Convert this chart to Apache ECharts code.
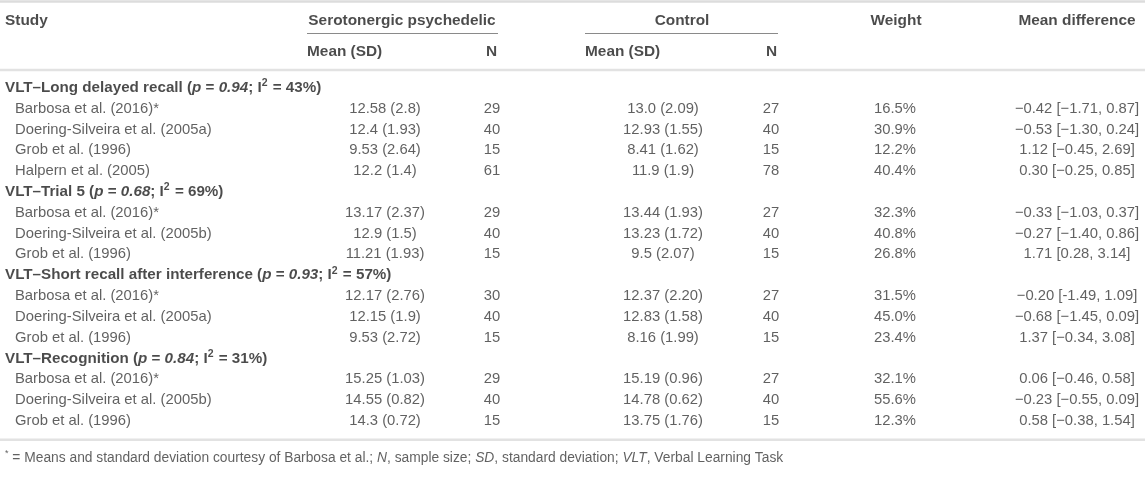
<!DOCTYPE html>
<html>
<head>
<meta charset="utf-8">
<script src="https://cdn.jsdelivr.net/npm/echarts@6/dist/echarts.min.js"></script>
<style>
html,body{margin:0;padding:0;background:#fff;}
#chart{width:1145px;height:477px;}
</style>
</head>
<body>
<div id="chart"></div>
<script>
// ---------- DATA ----------
const groupNames = ['VLT–Long delayed recall', 'VLT–Trial 5', 'VLT–Short recall after interference', 'VLT–Recognition'];
const groupP = ['0.94', '0.68', '0.93', '0.84'];
const groupI2 = ['43%', '69%', '57%', '31%'];
const groupSizes = [4, 3, 3, 3];
const studyNames = [
  'Barbosa et al. (2016)*', 'Doering-Silveira et al. (2005a)', 'Grob et al. (1996)', 'Halpern et al. (2005)',
  'Barbosa et al. (2016)*', 'Doering-Silveira et al. (2005b)', 'Grob et al. (1996)',
  'Barbosa et al. (2016)*', 'Doering-Silveira et al. (2005a)', 'Grob et al. (1996)',
  'Barbosa et al. (2016)*', 'Doering-Silveira et al. (2005b)', 'Grob et al. (1996)'
];
const psyMeanSD = ['12.58 (2.8)', '12.4 (1.93)', '9.53 (2.64)', '12.2 (1.4)',
  '13.17 (2.37)', '12.9 (1.5)', '11.21 (1.93)',
  '12.17 (2.76)', '12.15 (1.9)', '9.53 (2.72)',
  '15.25 (1.03)', '14.55 (0.82)', '14.3 (0.72)'];
const psyN = ['29', '40', '15', '61', '29', '40', '15', '30', '40', '15', '29', '40', '15'];
const ctlMeanSD = ['13.0 (2.09)', '12.93 (1.55)', '8.41 (1.62)', '11.9 (1.9)',
  '13.44 (1.93)', '13.23 (1.72)', '9.5 (2.07)',
  '12.37 (2.20)', '12.83 (1.58)', '8.16 (1.99)',
  '15.19 (0.96)', '14.78 (0.62)', '13.75 (1.76)'];
const ctlN = ['27', '40', '15', '78', '27', '40', '15', '27', '40', '15', '27', '40', '15'];
const weights = ['16.5%', '30.9%', '12.2%', '40.4%', '32.3%', '40.8%', '26.8%', '31.5%', '45.0%', '23.4%', '32.1%', '55.6%', '12.3%'];
const meanDiff = ['−0.42 [−1.71, 0.87]', '−0.53 [−1.30, 0.24]', '1.12 [−0.45, 2.69]', '0.30 [−0.25, 0.85]',
  '−0.33 [−1.03, 0.37]', '−0.27 [−1.40, 0.86]', '1.71 [0.28, 3.14]',
  '−0.20 [-1.49, 1.09]', '−0.68 [−1.45, 0.09]', '1.37 [−0.34, 3.08]',
  '0.06 [−0.46, 0.58]', '−0.23 [−0.55, 0.09]', '0.58 [−0.38, 1.54]'];
const headerTop = ['Study', 'Serotonergic psychedelic', 'Control', 'Weight', 'Mean difference'];
const headerSub = ['Mean (SD)', 'N', 'Mean (SD)', 'N'];

// ---------- LAYOUT ----------
const W = 1145, H = 477;
const rowTop = 88, rowStep = 20.8;
const yHead1 = 21, yHead2 = 52;
const col = { group: 5, study: 15, psyMean: 385, psyN: 492, ctlMean: 663, ctlN: 771, weight: 895, md: 1077 };
const FONT = '"Liberation Sans", Arial, Helvetica, sans-serif';
const bodyColor = '#3a3a3a', headColor = '#1e1e1e';
const bodySize = 14.8;

// ---------- BUILD ROWS ----------
const groupPts = [], studyPts = [], psyMeanPts = [], psyNPts = [], ctlMeanPts = [], ctlNPts = [], wPts = [], mdPts = [];
let r = 0, k = 0;
groupNames.forEach((g, gi) => {
  const y = rowTop + r * rowStep;
  groupPts.push({ value: [col.group, y], gi: gi });
  r++;
  for (let j = 0; j < groupSizes[gi]; j++, k++, r++) {
    const yy = rowTop + r * rowStep;
    studyPts.push({ value: [col.study, yy], t: studyNames[k] });
    psyMeanPts.push({ value: [col.psyMean, yy], t: psyMeanSD[k] });
    psyNPts.push({ value: [col.psyN, yy], t: psyN[k] });
    ctlMeanPts.push({ value: [col.ctlMean, yy], t: ctlMeanSD[k] });
    ctlNPts.push({ value: [col.ctlN, yy], t: ctlN[k] });
    wPts.push({ value: [col.weight, yy], t: weights[k] });
    mdPts.push({ value: [col.md, yy], t: meanDiff[k] });
  }
});
const yBottomRule = rowTop + (r - 1) * rowStep + 19;
const yFoot = yBottomRule + 18;

function textSeries(points, align, opts) {
  opts = opts || {};
  return {
    type: 'scatter', symbolSize: 0, silent: true, clip: false, animation: false,
    data: points,
    label: Object.assign({
      show: true, position: 'inside', align: align, verticalAlign: 'middle',
      fontFamily: FONT, fontSize: bodySize, color: bodyColor,
      formatter: p => p.data.t
    }, opts)
  };
}
function rule(x1, x2, y, color, width) {
  return {
    type: 'line', data: [[x1, y], [x2, y]], showSymbol: false, silent: true, clip: false,
    animation: false, lineStyle: { color: color, width: width }
  };
}

const headBold = { fontWeight: 'bold', color: headColor, fontSize: 15.4 };
const groupRich = {
  b: { fontWeight: 'bold', color: headColor, fontSize: 15.2, fontFamily: FONT, lineHeight: 20 },
  bi: { fontWeight: 'bold', fontStyle: 'italic', color: headColor, fontSize: 15.2, fontFamily: FONT, lineHeight: 20 },
  sup: { fontWeight: 'bold', color: headColor, fontSize: 10.5, fontFamily: FONT, lineHeight: 20, verticalAlign: 'top', padding: [0, 1, 0, 0] }
};

const series = [
  rule(0, W, 1.5, '#dcdcdc', 2.5),
  rule(307, 498, 33.5, '#8a8a8a', 1),
  rule(585, 778, 33.5, '#8a8a8a', 1),
  rule(0, W, 70, '#e2e2e2', 2.5),
  rule(0, W, yBottomRule, '#e2e2e2', 2.5),
  // headers
  textSeries([{ value: [5, yHead1], t: headerTop[0] }], 'left', headBold),
  textSeries([{ value: [402, yHead1], t: headerTop[1] }], 'center', headBold),
  textSeries([{ value: [682, yHead1], t: headerTop[2] }], 'center', headBold),
  textSeries([{ value: [896, yHead1], t: headerTop[3] }], 'center', headBold),
  textSeries([{ value: [1077, yHead1], t: headerTop[4] }], 'center', headBold),
  textSeries([{ value: [307, yHead2], t: headerSub[0] }, { value: [585, yHead2], t: headerSub[2] }], 'left', headBold),
  textSeries([{ value: [497, yHead2], t: headerSub[1] }, { value: [777, yHead2], t: headerSub[3] }], 'right', headBold),
  // group titles
  textSeries(groupPts, 'left', {
    rich: groupRich,
    formatter: p => {
      const gi = p.data.gi;
      return '{b|' + groupNames[gi] + ' (}{bi|p}{b| = }{bi|' + groupP[gi] + '}{b|; I}{sup|2}{b| = ' + groupI2[gi] + ')}';
    }
  }),
  textSeries(studyPts, 'left'),
  textSeries(psyMeanPts, 'center'),
  textSeries(psyNPts, 'center'),
  textSeries(ctlMeanPts, 'center'),
  textSeries(ctlNPts, 'center'),
  textSeries(wPts, 'center'),
  textSeries(mdPts, 'center'),
  // footnote
  textSeries([{ value: [5, yFoot] }], 'left', {
    rich: {
      n: { fontFamily: FONT, fontSize: 13.8, color: bodyColor },
      i: { fontFamily: FONT, fontSize: 13.8, color: bodyColor, fontStyle: 'italic' },
      s: { fontFamily: FONT, fontSize: 9, color: bodyColor, verticalAlign: 'top', lineHeight: 17 }
    },
    formatter: () => '{s|*}{n| = Means and standard deviation courtesy of Barbosa et al.; }{i|N}{n|, sample size; }{i|SD}{n|, standard deviation; }{i|VLT}{n|, Verbal Learning Task}'
  })
];

const chart = echarts.init(document.getElementById('chart'), null, { renderer: 'canvas' });
chart.setOption({
  backgroundColor: '#ffffff',
  animation: false,
  grid: { left: 0, right: 0, top: 0, bottom: 0 },
  xAxis: { type: 'value', min: 0, max: W, show: false },
  yAxis: { type: 'value', min: 0, max: H, inverse: true, show: false },
  series: series
});
</script>
</body>
</html>
